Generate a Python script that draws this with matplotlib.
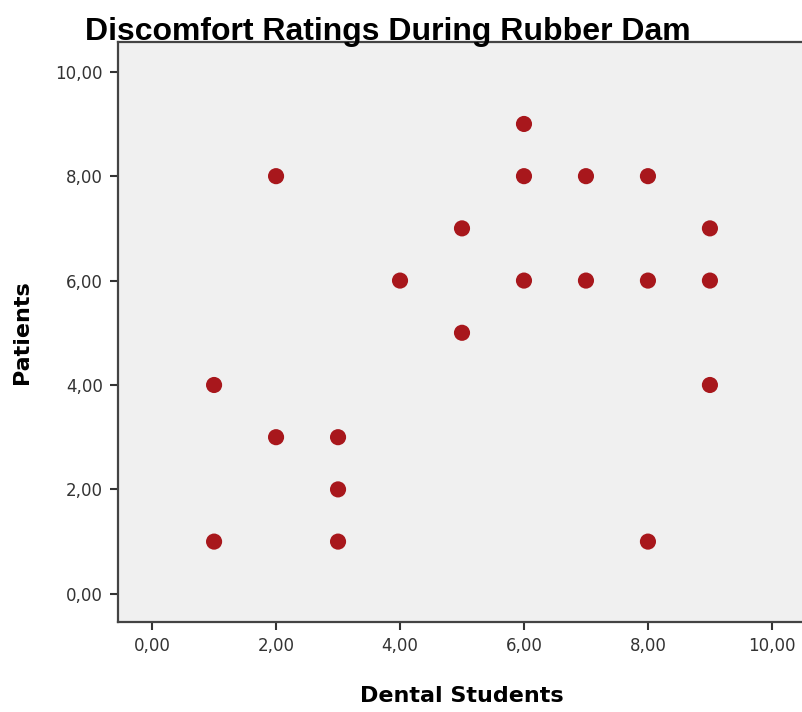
import numpy as np
import matplotlib.pyplot as plt

# Discomfort ratings: dental students (x) vs patients (y)
students = [1, 1, 2, 2, 3, 3, 3, 4, 5, 5, 6, 6, 6, 7, 7, 8, 8, 8, 9, 9, 9]
patients = [1, 4, 3, 8, 1, 2, 3, 6, 5, 7, 6, 8, 9, 6, 8, 1, 6, 8, 4, 6, 7]
ticks = [0, 2, 4, 6, 8, 10]
tick_labels = ["0,00", "2,00", "4,00", "6,00", "8,00", "10,00"]

fig = plt.figure(figsize=(8.03, 7.12), dpi=100)
ax = fig.add_axes([118/803, 1 - 622/712, (806 - 118)/803, (622 - 42)/712])
ax.set_facecolor("#f0f0f0")

ax.scatter(students, patients, s=135, color="#a8171c", edgecolors="none", zorder=3)

ax.set_xlim(-0.55, 10.55)
ax.set_ylim(-0.54, 10.57)
ax.set_xticks(ticks)
ax.set_xticklabels(tick_labels)
ax.set_yticks(ticks)
ax.set_yticklabels(tick_labels)
ax.tick_params(direction="out", length=6, width=1.5, color="#333333",
               labelsize=12, labelcolor="#333333", pad=5)

for side in ["left", "bottom", "top"]:
    ax.spines[side].set_color("#444444")
    ax.spines[side].set_linewidth(1.6)
ax.spines["right"].set_visible(False)

ax.set_xlabel("Dental Students", fontsize=16, fontweight="bold", labelpad=22)
ax.set_ylabel("Patients", fontsize=16, fontweight="bold", labelpad=17)

fig.text(85/803, 1 - 40/712, "Discomfort Ratings During Rubber Dam",
         fontsize=23, family="Liberation Sans", fontweight="bold",
         ha="left", va="baseline", zorder=0)

fig.savefig("out.png", dpi=100)
